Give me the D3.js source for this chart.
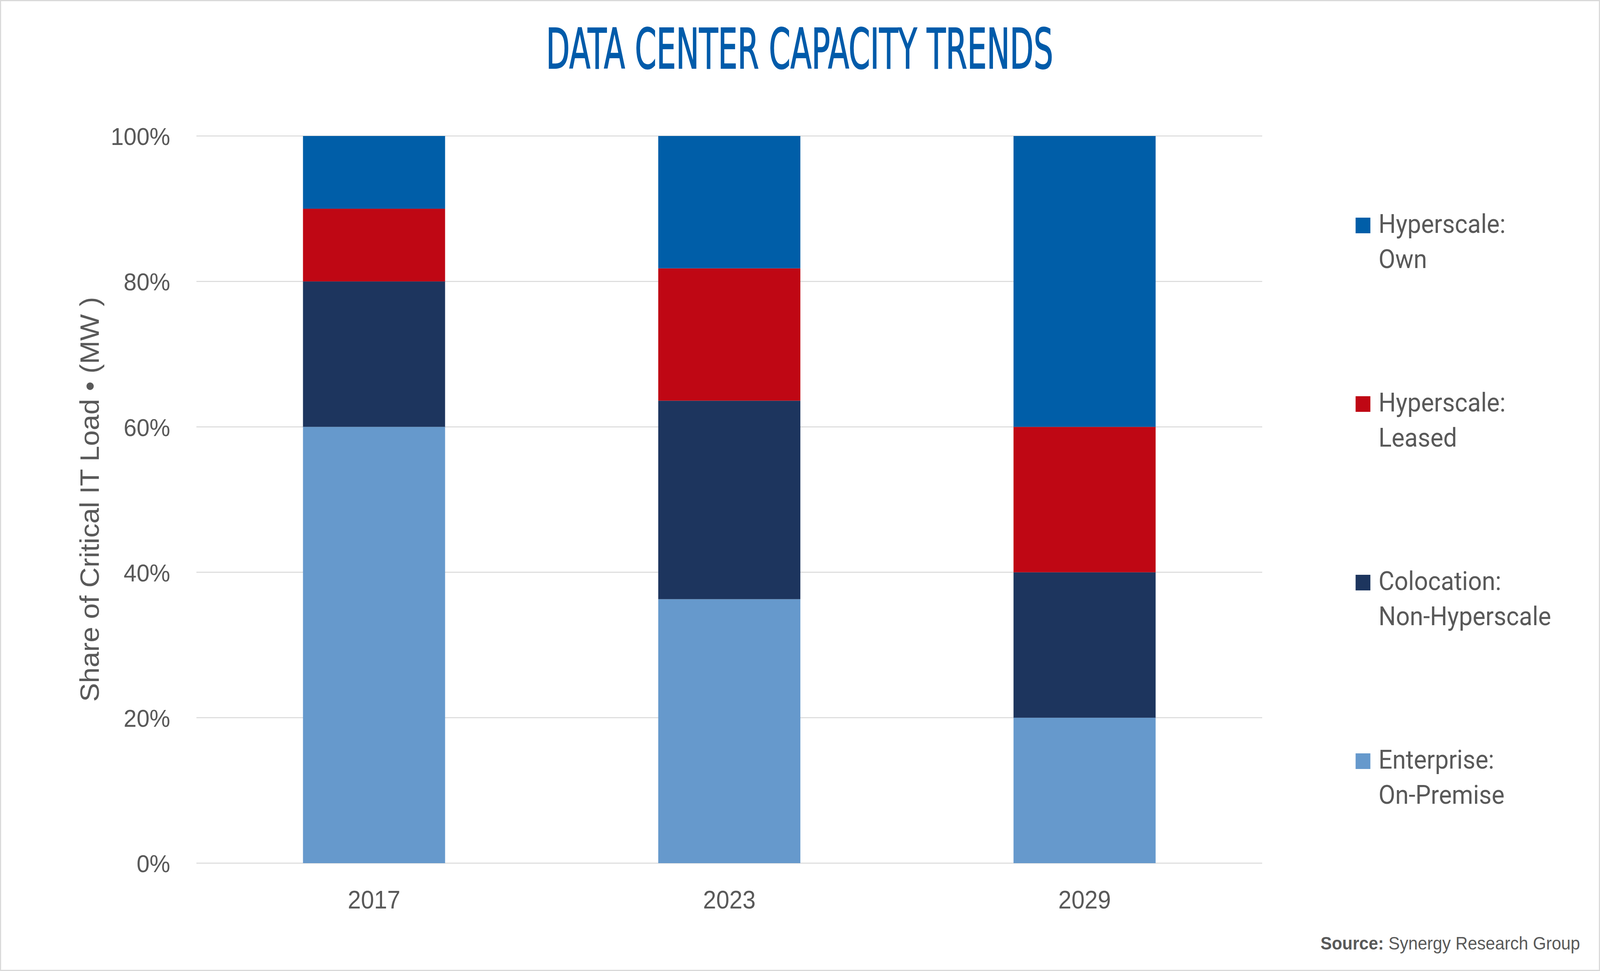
<!DOCTYPE html>
<html>
<head>
<meta charset="utf-8">
<script src="https://cdn.jsdelivr.net/npm/d3@7/dist/d3.min.js"></script>
<style>
  html, body { margin: 0; padding: 0; background: #fff; overflow: hidden; }
  svg { display: block; width: 100vw; height: 100vh; }
</style>
</head>
<body>
<script>
// ---- Data ----
const years = ["2017", "2023", "2029"];
const enterprise = [60, 36.3, 20];   // Enterprise: On-Premise
const colocation = [20, 27.3, 20];   // Colocation: Non-Hyperscale
const leased = [10, 18.2, 20];       // Hyperscale: Leased
const own = [10, 18.2, 40];          // Hyperscale: Own
const yTicks = [0, 20, 40, 60, 80, 100];
const seriesKeys = ["enterprise", "colocation", "leased", "own"];
const seriesLabels = {
  own: ["Hyperscale:", "Own"],
  leased: ["Hyperscale:", "Leased"],
  colocation: ["Colocation:", "Non-Hyperscale"],
  enterprise: ["Enterprise:", "On-Premise"]
};
const legendOrder = ["own", "leased", "colocation", "enterprise"];
const colors = { own: "#005EA8", leased: "#BF0714", colocation: "#1D355E", enterprise: "#6699CC" };

const W = 4334, H = 2485;
const textColor = "#595959";

const table = years.map((y, i) => ({
  year: y, enterprise: enterprise[i], colocation: colocation[i], leased: leased[i], own: own[i]
}));

const svg = d3.select("body").append("svg")
  .attr("viewBox", `0 0 ${W} ${H}`)
  .attr("preserveAspectRatio", "none");

// border
svg.append("rect").attr("x", 1.5).attr("y", 1.5).attr("width", W - 3).attr("height", H - 3)
  .attr("fill", "#fff").attr("stroke", "#D9D9D9").attr("stroke-width", 3);

const x = d3.scaleBand().domain(years).range([532, 3419]).paddingInner(0.6).paddingOuter(0.3);
const y = d3.scaleLinear().domain([0, 100]).range([2209, 348]);

// gridlines
svg.append("g").selectAll("line").data(yTicks).join("line")
  .attr("x1", 532).attr("x2", 3419)
  .attr("y1", d => y(d)).attr("y2", d => y(d))
  .attr("stroke", "#D9D9D9").attr("stroke-width", 2.5);

// y tick labels
const yAxis = d3.axisLeft(y).tickValues(yTicks).tickFormat(d => d + "%").tickSize(0).tickPadding(0);
const gy = svg.append("g").attr("transform", "translate(461,0)").call(yAxis);
gy.select(".domain").remove();
gy.selectAll("text").attr("font-family", "Liberation Sans, Arial, sans-serif")
  .attr("font-size", 63).attr("fill", textColor).attr("dy", "0.36em");

// stacked bars
const stack = d3.stack().keys(seriesKeys);
const stacked = stack(table);
svg.append("g").selectAll("g").data(stacked).join("g")
  .attr("fill", s => colors[s.key])
  .selectAll("rect").data(s => s).join("rect")
  .attr("x", d => x(d.data.year))
  .attr("width", x.bandwidth())
  .attr("y", d => y(d[1]))
  .attr("height", d => y(d[0]) - y(d[1]));

// x labels
const xAxis = d3.axisBottom(x).tickSize(0).tickPadding(0);
const gx = svg.append("g").attr("transform", "translate(0,2325)").call(xAxis);
gx.select(".domain").remove();
gx.selectAll("text").attr("font-family", "Liberation Sans, Arial, sans-serif")
  .attr("font-size", 64).attr("fill", textColor).attr("dy", 0);

// y axis title
svg.append("text")
  .attr("transform", "translate(268,1278) rotate(-90)")
  .attr("text-anchor", "middle")
  .attr("font-family", "Liberation Sans, Arial, sans-serif")
  .attr("font-size", 72).attr("fill", textColor)
  .text("Share of Critical IT Load \u2022 (MW )");

// title
svg.append("text")
  .attr("x", 1479).attr("y", 175)
  .attr("textLength", 1374).attr("lengthAdjust", "spacingAndGlyphs")
  .attr("font-family", "Liberation Sans Narrow, DejaVu Sans Condensed, Roboto, sans-serif")
  .attr("font-size", 143).attr("fill", "#005BAA")
  .attr("stroke", "#005BAA").attr("stroke-width", 2)
  .text("DATA CENTER CAPACITY TRENDS");

// legend
const lg = svg.append("g").selectAll("g").data(legendOrder).join("g")
  .attr("transform", (d, i) => `translate(3672,${596 + i * 457})`);
lg.append("rect").attr("x", 0).attr("y", -39).attr("width", 40).attr("height", 40)
  .attr("fill", d => colors[d]);
lg.each(function (d) {
  const t = d3.select(this).append("text")
    .attr("font-family", "Roboto, sans-serif").attr("font-size", 66).attr("fill", textColor);
  seriesLabels[d].forEach((line, j) => {
    t.append("tspan").attr("x", 62).attr("y", j * 90).text(line);
  });
});

// source
const src = svg.append("text").attr("x", 4280).attr("y", 2430).attr("text-anchor", "end")
  .attr("font-family", "Liberation Sans, Arial, sans-serif").attr("font-size", 46).attr("fill", textColor);
src.append("tspan").attr("font-weight", "bold").text("Source:");
src.append("tspan").text(" Synergy Research Group");
</script>
</body>
</html>
